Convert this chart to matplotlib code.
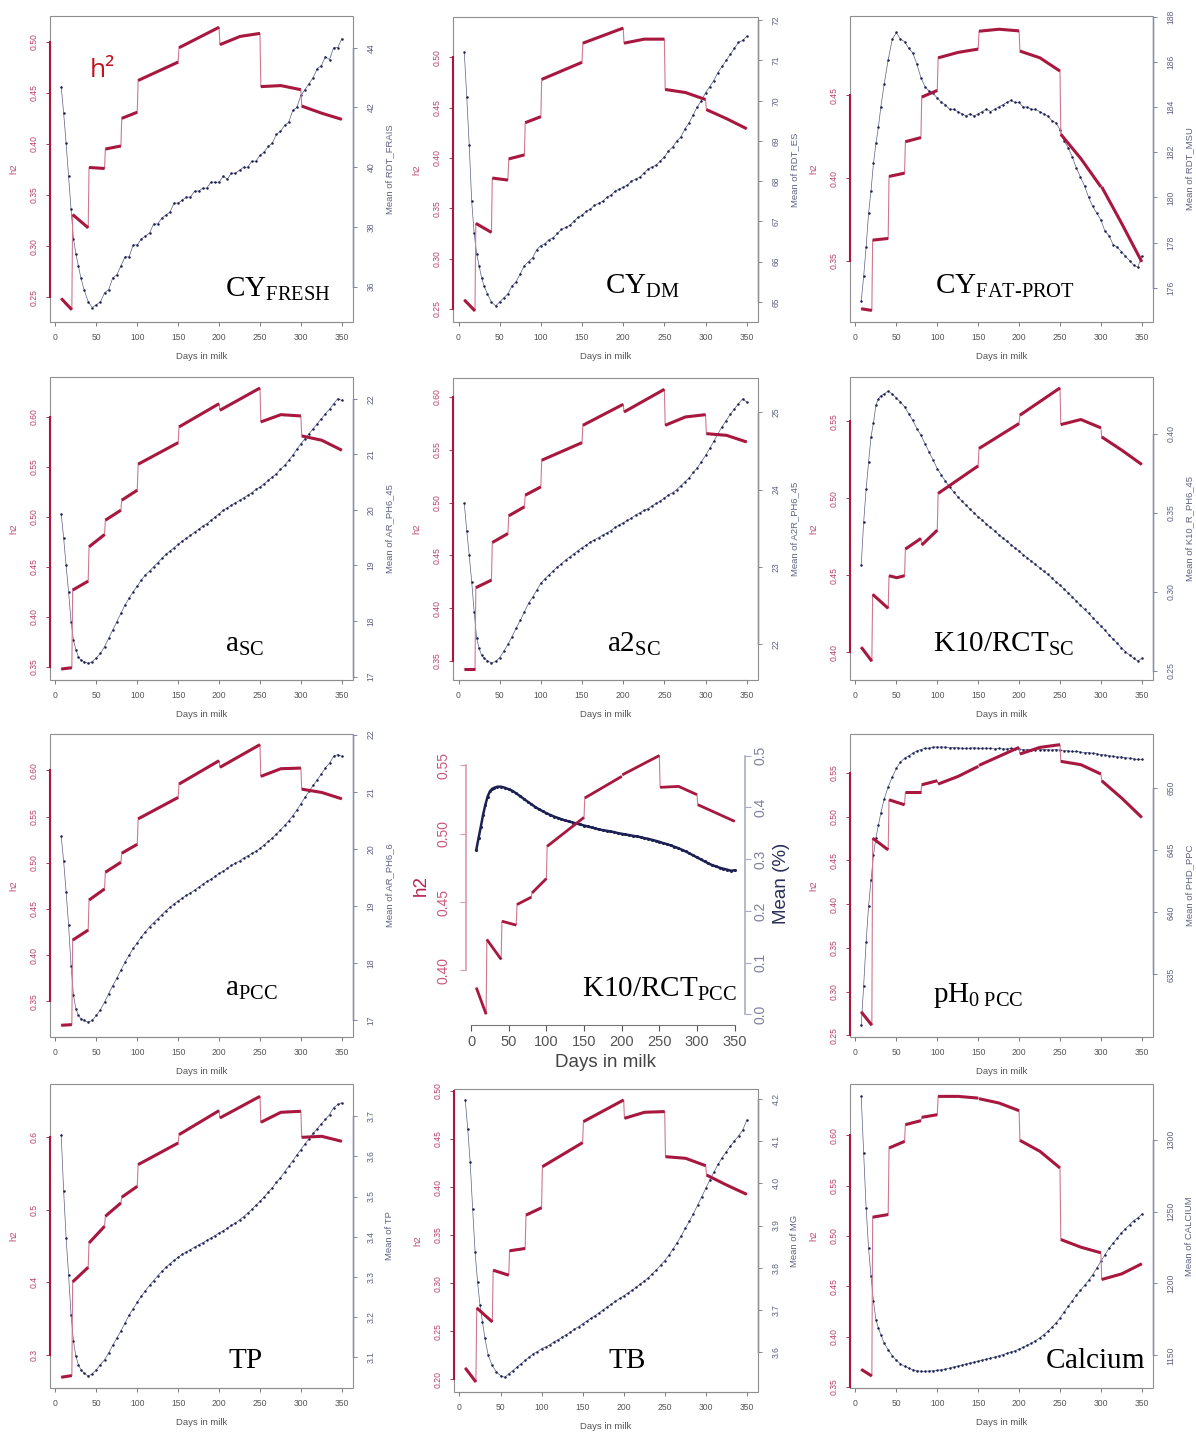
import matplotlib
matplotlib.use("Agg")
import matplotlib.pyplot as plt
from matplotlib.patches import Rectangle

plt.rcParams['font.family'] = ['Liberation Sans', 'DejaVu Sans']
plt.rcParams['mathtext.fontset'] = 'custom'
plt.rcParams['mathtext.rm'] = 'Liberation Serif'
plt.rcParams['mathtext.it'] = 'Liberation Serif:italic'
plt.rcParams['mathtext.bf'] = 'Liberation Serif:bold'

# ---------------- data ----------------
# days where the mean curve was read, and the h2 segment boundaries
DAYS = [7, 10, 13, 16, 19, 22, 25, 28, 31, 35] + list(range(40, 351, 5))
SEG_DAYS = [7, 20, 40, 60, 80, 100, 150, 200, 250, 300, 350]

# h2 per segment: (start, end) or (start, middle, end)
cy_fresh_h2 = [(0.249, 0.238), (0.331, 0.318), (0.377, 0.376), (0.395, 0.398), (0.425, 0.431),
               (0.462, 0.480), (0.494, 0.514), (0.497, 0.505, 0.508), (0.456, 0.457, 0.453),
               (0.437, 0.430, 0.424)]
cy_dm_h2 = [(0.259, 0.248), (0.335, 0.326), (0.380, 0.378), (0.399, 0.403), (0.435, 0.441),
            (0.478, 0.495), (0.514, 0.529), (0.514, 0.518, 0.518), (0.468, 0.465, 0.458),
            (0.448, 0.439, 0.429)]
cy_fp_h2 = [(0.321, 0.320), (0.3625, 0.3635), (0.401, 0.403), (0.422, 0.4245), (0.449, 0.453),
            (0.4727, 0.476, 0.478), (0.4888, 0.490, 0.489), (0.4768, 0.4727, 0.4647),
            (0.4265, 0.4118, 0.3947), (0.3947, 0.3725, 0.3494)]
a_sc_h2 = [(0.3477, 0.349), (0.4267, 0.4357), (0.470, 0.4823), (0.4967, 0.5067), (0.5167, 0.5267),
           (0.5527, 0.5743), (0.590, 0.6133), (0.6067, 0.629), (0.595, 0.6023, 0.601),
           (0.581, 0.5767, 0.5667)]
a2_sc_h2 = [(0.3424, 0.3424), (0.4194, 0.4266), (0.4622, 0.4707), (0.4875, 0.496), (0.507, 0.5149),
            (0.5401, 0.5568), (0.5732, 0.5931), (0.5858, 0.6073), (0.5732, 0.5811, 0.5833),
            (0.5653, 0.5637, 0.5574)]
k10_sc_h2 = [(0.4033, 0.3942), (0.4376, 0.4285), (0.4497, 0.4484, 0.4497), (0.467, 0.4739),
             (0.4696, 0.4793), (0.5031, 0.521), (0.5323, 0.5485), (0.5539, 0.5716),
             (0.5478, 0.5511, 0.5457), (0.5398, 0.5312, 0.5219)]
a_pcc_h2 = [(0.324, 0.3247), (0.4162, 0.4271), (0.4596, 0.4716), (0.4897, 0.5005), (0.5103, 0.520),
            (0.5475, 0.5707), (0.5852, 0.6105), (0.6033, 0.6279), (0.5935, 0.6018, 0.6025),
            (0.5797, 0.5761, 0.5692)]
k10_pcc_h2 = [(0.3873, 0.3679), (0.4226, 0.408), (0.436, 0.4331), (0.4482, 0.4536), (0.4567, 0.4672),
              (0.4908, 0.512), (0.5262, 0.542), (0.5432, 0.5573), (0.534, 0.5347, 0.5286),
              (0.5213, 0.5152, 0.5091)]
ph0_h2 = [(0.2768, 0.2615), (0.4755, 0.4621), (0.5194, 0.5137), (0.5278, 0.5278), (0.5366, 0.5412),
          (0.5374, 0.5462, 0.5576), (0.5588, 0.5691, 0.5794), (0.5718, 0.5794, 0.5825),
          (0.5634, 0.5596, 0.5489), (0.5412, 0.5213, 0.4992)]
tp_h2 = [(0.2688, 0.2711), (0.4002, 0.4204), (0.4539, 0.4769), (0.4907, 0.5091), (0.5169, 0.532),
         (0.5619, 0.5917), (0.6032, 0.6363), (0.6262, 0.656), (0.6202, 0.634, 0.6354),
         (0.5995, 0.6009, 0.594)]
tb_h2 = [(0.2118, 0.1972), (0.2743, 0.2597), (0.3135, 0.3083), (0.3337, 0.3361), (0.3708, 0.3785),
         (0.4212, 0.4462), (0.4681, 0.4906), (0.4715, 0.4778, 0.4785), (0.4316, 0.4299, 0.4222),
         (0.4125, 0.4021, 0.3924)]
calcium_h2 = [(0.3675, 0.3609), (0.5187, 0.5213), (0.5874, 0.594), (0.6106, 0.6146), (0.6179, 0.6205),
              (0.6387, 0.6387, 0.637), (0.6364, 0.6321, 0.6245), (0.595, 0.5841, 0.5676),
              (0.4965, 0.4889, 0.4833), (0.4568, 0.4624, 0.4724)]

# mean of the trait at each day of DAYS
cy_fresh_mean = [42.7, 41.8, 40.8, 39.7, 38.6, 37.6, 37.1, 36.7, 36.3, 35.9,
                 35.5, 35.3, 35.4, 35.5, 35.8, 35.9, 36.3, 36.4, 36.7, 37.0, 37.0, 37.4, 37.4,
                 37.6, 37.7, 37.8, 38.1, 38.1, 38.3, 38.4, 38.5, 38.8, 38.8,
                 38.9, 39.0, 39.0, 39.2, 39.2, 39.3, 39.3, 39.5, 39.5, 39.5,
                 39.7, 39.6, 39.8, 39.8, 39.9, 40.0, 40.0, 40.2, 40.2, 40.4,
                 40.5, 40.7, 40.8, 41.1, 41.2, 41.4, 41.5, 41.9, 42.0, 42.4,
                 42.6, 42.8, 43.0, 43.3, 43.4, 43.7, 43.6, 44.0, 44.0, 44.3]
cy_dm_mean = [71.2, 70.1, 68.9, 67.5, 66.7, 66.2, 65.9, 65.6, 65.4, 65.2,
              65.0, 64.9, 65.0, 65.1, 65.2, 65.4, 65.5, 65.7, 65.9, 66.0, 66.1, 66.3, 66.4,
              66.45, 66.55, 66.6, 66.7, 66.8, 66.85, 66.9, 67.0, 67.1, 67.15,
              67.25, 67.3, 67.4, 67.45, 67.5, 67.6, 67.65, 67.75, 67.8, 67.85,
              67.9, 68.0, 68.05, 68.1, 68.2, 68.3, 68.35, 68.4, 68.5, 68.6,
              68.75, 68.85, 69.0, 69.1, 69.3, 69.45, 69.65, 69.85, 70.0, 70.2,
              70.35, 70.5, 70.7, 70.85, 71.0, 71.15, 71.3, 71.45, 71.5, 71.6]
cy_fp_mean = [175.4, 176.5, 177.8, 179.3, 180.3, 181.5, 182.4, 183.1, 184.0, 185.0,
              186.1, 187.0, 187.3, 187.0, 186.9, 186.6, 186.4, 185.9, 185.3, 184.9, 184.7, 184.6, 184.4,
              184.2, 184.1, 183.9, 183.9, 183.8, 183.7, 183.6, 183.7, 183.6, 183.7,
              183.8, 183.9, 183.8, 183.9, 184.0, 184.1, 184.2, 184.3, 184.2, 184.2,
              184.0, 184.0, 183.9, 183.9, 183.8, 183.7, 183.6, 183.4, 183.3, 183.0,
              182.5, 182.2, 181.8, 181.3, 180.9, 180.5, 180.0, 179.6, 179.3, 179.0,
              178.5, 178.3, 177.9, 177.8, 177.6, 177.4, 177.2, 177.0, 176.9, 177.4]
a_sc_mean = [19.93, 19.49, 19.0, 18.53, 17.99, 17.66, 17.48, 17.36, 17.3, 17.27,
             17.24, 17.27, 17.34, 17.42, 17.54, 17.69, 17.84, 17.99, 18.14, 18.29, 18.41, 18.53, 18.63,
             18.74, 18.83, 18.9, 18.98, 19.05, 19.13, 19.2, 19.26, 19.32, 19.38,
             19.44, 19.49, 19.54, 19.6, 19.65, 19.71, 19.75, 19.81, 19.87, 19.93,
             19.99, 20.04, 20.08, 20.13, 20.17, 20.22, 20.26, 20.31, 20.37, 20.41,
             20.47, 20.53, 20.59, 20.65, 20.73, 20.8, 20.89, 20.98, 21.09, 21.19,
             21.28, 21.37, 21.46, 21.55, 21.64, 21.73, 21.81, 21.91, 22.0, 21.97]
a2_sc_mean = [23.82, 23.47, 23.15, 22.81, 22.42, 22.08, 21.95, 21.86, 21.82, 21.79,
              21.76, 21.78, 21.83, 21.91, 22.0, 22.1, 22.21, 22.31, 22.42, 22.53, 22.61, 22.7, 22.79,
              22.85, 22.9, 22.95, 23.0, 23.04, 23.09, 23.13, 23.17, 23.21, 23.25,
              23.28, 23.32, 23.35, 23.38, 23.41, 23.44, 23.47, 23.51, 23.54, 23.57,
              23.6, 23.63, 23.67, 23.7, 23.73, 23.75, 23.79, 23.82, 23.85, 23.89,
              23.93, 23.96, 24.0, 24.05, 24.1, 24.15, 24.22, 24.28, 24.36, 24.44,
              24.53, 24.62, 24.72, 24.81, 24.89, 24.97, 25.04, 25.11, 25.17, 25.13]
k10_sc_mean = [0.317, 0.344, 0.365, 0.382, 0.398, 0.407, 0.418, 0.422, 0.424, 0.425,
               0.427, 0.425, 0.4225, 0.420, 0.417, 0.4126, 0.4084, 0.4032, 0.399, 0.3937, 0.3884, 0.3832, 0.3779,
               0.3737, 0.3699, 0.3663, 0.3632, 0.360, 0.3573, 0.3548, 0.3522, 0.3499, 0.3474,
               0.3453, 0.3428, 0.3407, 0.3386, 0.3362, 0.3341, 0.332, 0.3299, 0.3278, 0.3257,
               0.3236, 0.3215, 0.3194, 0.3173, 0.3152, 0.3131, 0.311, 0.3089, 0.3064, 0.3043,
               0.3017, 0.2994, 0.2969, 0.2942, 0.2916, 0.2889, 0.2864, 0.2837, 0.2811, 0.2784,
               0.2757, 0.2727, 0.2702, 0.2675, 0.2647, 0.2622, 0.2601, 0.258, 0.2563, 0.258]
a_pcc_mean = [20.22, 19.78, 19.25, 18.67, 17.96, 17.44, 17.2, 17.09, 17.03, 17.0,
              16.97, 17.0, 17.09, 17.19, 17.32, 17.47, 17.61, 17.74, 17.88, 18.02, 18.14, 18.26, 18.36,
              18.46, 18.55, 18.64, 18.71, 18.78, 18.85, 18.92, 18.98, 19.04, 19.09,
              19.14, 19.19, 19.23, 19.28, 19.33, 19.38, 19.43, 19.47, 19.52, 19.57,
              19.61, 19.66, 19.71, 19.75, 19.79, 19.84, 19.88, 19.92, 19.96, 20.01,
              20.07, 20.13, 20.19, 20.26, 20.33, 20.41, 20.49, 20.58, 20.68, 20.79,
              20.9, 21.01, 21.11, 21.21, 21.31, 21.42, 21.5, 21.62, 21.65, 21.62]
k10_pcc_mean = [0.318, 0.341, 0.363, 0.386, 0.405, 0.421, 0.431, 0.436, 0.438, 0.440,
                0.440, 0.438, 0.435, 0.432, 0.427, 0.422, 0.4165, 0.4113, 0.4062, 0.401, 0.3965, 0.3927, 0.3888,
                0.3856, 0.3824, 0.3798, 0.3772, 0.3747, 0.3728, 0.3708, 0.3689, 0.367, 0.365,
                0.3631, 0.3612, 0.3593, 0.3573, 0.356, 0.3548, 0.3535, 0.3522, 0.3503, 0.349,
                0.3477, 0.3464, 0.3451, 0.3438, 0.3425, 0.3406, 0.3393, 0.3374, 0.3355, 0.3335,
                0.331, 0.329, 0.3265, 0.3239, 0.3213, 0.3181, 0.3149, 0.311, 0.3072, 0.3033,
                0.2995, 0.2956, 0.2918, 0.2886, 0.286, 0.2834, 0.2815, 0.2796, 0.2776, 0.2783]
ph0_mean = [630.9, 634.1, 637.6, 640.5, 642.6, 644.6, 646.0, 647.0, 648.0, 649.1,
            650.1, 650.9, 651.6, 652.1, 652.4, 652.6, 652.8, 653.0, 653.1, 653.2, 653.2, 653.3, 653.3,
            653.3, 653.3, 653.25, 653.25, 653.25, 653.2, 653.2, 653.2, 653.25, 653.2,
            653.2, 653.2, 653.2, 653.15, 653.2, 653.15, 653.15, 653.2, 653.15, 653.15,
            653.1, 653.1, 653.1, 653.1, 653.1, 653.1, 653.1, 653.05, 653.1, 653.05,
            653.0, 653.0, 652.95, 652.95, 652.9, 652.85, 652.85, 652.8, 652.75, 652.7,
            652.65, 652.6, 652.55, 652.5, 652.5, 652.45, 652.4, 652.35, 652.3, 652.3]
tp_mean = [3.654, 3.513, 3.397, 3.306, 3.206, 3.14, 3.102, 3.082, 3.069, 3.061,
           3.053, 3.059, 3.069, 3.082, 3.094, 3.111, 3.13, 3.148, 3.166, 3.185, 3.205, 3.221, 3.237,
           3.252, 3.266, 3.279, 3.291, 3.303, 3.314, 3.324, 3.333, 3.341, 3.349,
           3.356, 3.362, 3.368, 3.374, 3.38, 3.385, 3.391, 3.397, 3.403, 3.409,
           3.415, 3.421, 3.428, 3.434, 3.442, 3.45, 3.459, 3.468, 3.478, 3.488,
           3.499, 3.511, 3.522, 3.535, 3.547, 3.561, 3.575, 3.589, 3.603, 3.617,
           3.631, 3.644, 3.657, 3.669, 3.681, 3.692, 3.704, 3.721, 3.729, 3.733]
tb_mean = [4.198, 4.13, 4.051, 3.94, 3.837, 3.766, 3.711, 3.671, 3.632, 3.592,
           3.568, 3.552, 3.544, 3.54, 3.548, 3.556, 3.564, 3.572, 3.58, 3.588, 3.596, 3.601, 3.608,
           3.612, 3.617, 3.624, 3.629, 3.635, 3.641, 3.647, 3.654, 3.66, 3.667,
           3.673, 3.68, 3.686, 3.693, 3.7, 3.707, 3.713, 3.72, 3.727, 3.733,
           3.74, 3.746, 3.753, 3.761, 3.768, 3.776, 3.786, 3.795, 3.806, 3.817,
           3.829, 3.844, 3.859, 3.875, 3.893, 3.91, 3.928, 3.948, 3.968, 3.988,
           4.008, 4.027, 4.045, 4.061, 4.075, 4.088, 4.101, 4.113, 4.126, 4.15]
calcium_mean = [1330.1, 1290.7, 1252.5, 1224.6, 1204.9, 1187.5, 1174.8, 1169.0, 1164.4, 1158.6,
                1153.9, 1149.8, 1146.5, 1144.2, 1142.3, 1141.2, 1140.0, 1139.3, 1138.9, 1138.9, 1139.1, 1139.3, 1139.6,
                1140.0, 1140.5, 1141.2, 1141.9, 1142.6, 1143.3, 1144.0, 1144.7, 1145.3, 1146.0,
                1146.7, 1147.4, 1148.1, 1148.8, 1149.7, 1150.5, 1151.4, 1152.3, 1153.2, 1154.4,
                1155.6, 1157.0, 1158.4, 1160.2, 1162.1, 1164.4, 1166.7, 1169.5, 1172.5, 1176.0,
                1180.1, 1184.1, 1188.0, 1191.7, 1195.2, 1198.7, 1202.2, 1206.1, 1210.7, 1215.4,
                1220.0, 1224.6, 1228.1, 1231.6, 1235.1, 1238.1, 1240.9, 1243.7, 1245.5, 1248.3]

titles = [r'$\mathrm{CY}_{\mathrm{FRESH}}$', r'$\mathrm{CY}_{\mathrm{DM}}$', r'$\mathrm{CY}_{\text{FAT-PROT}}$',
          r'$\mathrm{a}_{\mathrm{SC}}$', r'$\mathrm{a2}_{\mathrm{SC}}$', r'$\mathrm{K10/RCT}_{\mathrm{SC}}$',
          r'$\mathrm{a}_{\mathrm{PCC}}$', r'$\mathrm{K10/RCT}_{\mathrm{PCC}}$', r'$\mathrm{pH}_{\mathrm{0\ PCC}}$',
          r'$\mathrm{TP}$', r'$\mathrm{TB}$', r'$\mathrm{Calcium}$']
mean_labels = ['Mean of RDT_FRAIS', 'Mean of RDT_ES', 'Mean of RDT_MSU',
               'Mean of AR_PH6_45', 'Mean of A2R_PH6_45', 'Mean of K10_R_PH6_45',
               'Mean of AR_PH6_6', 'Mean (%)', 'Mean of PHD_PPC',
               'Mean of TP', 'Mean of MG', 'Mean of CALCIUM']
h2_ticks = [[0.25, 0.30, 0.35, 0.40, 0.45, 0.50], [0.25, 0.30, 0.35, 0.40, 0.45, 0.50], [0.35, 0.40, 0.45],
            [0.35, 0.40, 0.45, 0.50, 0.55, 0.60], [0.35, 0.40, 0.45, 0.50, 0.55, 0.60], [0.40, 0.45, 0.50, 0.55],
            [0.35, 0.40, 0.45, 0.50, 0.55, 0.60], [0.40, 0.45, 0.50, 0.55], [0.25, 0.30, 0.35, 0.40, 0.45, 0.50, 0.55],
            [0.3, 0.4, 0.5, 0.6], [0.20, 0.25, 0.30, 0.35, 0.40, 0.45, 0.50], [0.35, 0.40, 0.45, 0.50, 0.55, 0.60]]
mean_ticks = [[36, 38, 40, 42, 44], [65, 66, 67, 68, 69, 70, 71, 72], [176, 178, 180, 182, 184, 186, 188],
              [17, 18, 19, 20, 21, 22], [22, 23, 24, 25], [0.25, 0.30, 0.35, 0.40],
              [17, 18, 19, 20, 21, 22], [0.0, 0.1, 0.2, 0.3, 0.4, 0.5], [635, 640, 645, 650],
              [3.1, 3.2, 3.3, 3.4, 3.5, 3.6, 3.7], [3.6, 3.7, 3.8, 3.9, 4.0, 4.1, 4.2], [1150, 1200, 1250, 1300]]

h2_all = [cy_fresh_h2, cy_dm_h2, cy_fp_h2, a_sc_h2, a2_sc_h2, k10_sc_h2,
          a_pcc_h2, k10_pcc_h2, ph0_h2, tp_h2, tb_h2, calcium_h2]
mean_all = [cy_fresh_mean, cy_dm_mean, cy_fp_mean, a_sc_mean, a2_sc_mean, k10_sc_mean,
            a_pcc_mean, k10_pcc_mean, ph0_mean, tp_mean, tb_mean, calcium_mean]

# ---------------- layout / style ----------------
W, H = 1196, 1432
# plot boxes in pixels: left, top, right, bottom
boxes = [(50, 16, 353, 322), (453, 17, 758, 322), (850, 16, 1153, 322),
         (50, 377, 353, 680), (453, 378, 758, 680), (850, 377, 1153, 680),
         (50, 734, 353, 1037), (466, 745, 745, 1025), (850, 734, 1153, 1037),
         (50, 1084, 353, 1388), (454, 1089, 758, 1392), (850, 1084, 1153, 1388)]
h2_lims = [(0.226, 0.525), (0.237, 0.540), (0.313, 0.498), (0.3367, 0.640), (0.332, 0.618), (0.382, 0.5787),
           (0.3113, 0.6394), (0.360, 0.565), (0.248, 0.5947), (0.254, 0.673), (0.1868, 0.502), (0.349, 0.651)]
mean_lims = [(34.82, 45.06), (64.5, 72.08), (174.48, 188.03), (16.94, 22.39), (21.54, 25.44), (0.2443, 0.4358),
             (16.71, 22.01), (-0.0206, 0.5206), (629.97, 654.35), (3.0236, 3.78), (3.505, 4.224), (1127.3, 1338.7)]
h2_fmt = ['%.2f'] * 9 + ['%.1f', '%.2f', '%.2f']
mean_fmt = ['%d', '%d', '%d', '%d', '%d', '%.2f', '%d', '%.1f', '%d', '%.1f', '%.1f', '%d']
title_pos = [(0.578, 0.082), (0.498, 0.092), (0.28, 0.092), (0.578, 0.092), (0.505, 0.092), (0.274, 0.092),
             (0.578, 0.135), (0.416, 0.10), (0.274, 0.116), (0.587, 0.066), (0.507, 0.079), (0.644, 0.066)]

RED = '#A8173F'
RED_THIN = '#CF7890'
RED_TXT = '#B8426A'
NAVY = '#1C2052'
NAVY_THIN = '#5A5E86'
GREY_AX = '#6E7290'
BOX = '#8E8E8E'


def draw_h2(ax, segs, lw_thick):
    xs_all, ys_all = [], []
    for i, vals in enumerate(segs):
        a = SEG_DAYS[i] + (1 if i > 0 else 0)
        b = SEG_DAYS[i + 1]
        xs = [a, b] if len(vals) == 2 else [a, (a + b) / 2, b]
        ax.plot(xs, vals, color=RED, lw=lw_thick, solid_capstyle='butt',
                solid_joinstyle='round', zorder=4)
        xs_all += xs
        ys_all += list(vals)
    ax.plot(xs_all, ys_all, color=RED_THIN, lw=0.8, zorder=3)


fig = plt.figure(figsize=(W / 100, H / 100), dpi=100)

for k in range(12):
    l, t, r, b = boxes[k]
    ax = fig.add_axes([l / W, 1 - b / H, (r - l) / W, (b - t) / H])
    ax2 = ax.twinx()
    ax.set_zorder(3)
    ax2.set_zorder(2)
    ax.patch.set_visible(False)
    big = (k == 7)

    ax.set_xlim(-6.7, 363.7)
    ax.set_ylim(*h2_lims[k])
    ax2.set_ylim(*mean_lims[k])

    # mean curve (dots + thin line)
    if big:
        ax2.plot(DAYS, mean_all[k], color=NAVY, lw=1.8, zorder=2)
        ax2.plot(DAYS, mean_all[k], 'o', ms=2.2, color=NAVY, mec='none', zorder=3)
    else:
        ax2.plot(DAYS, mean_all[k], color=NAVY_THIN, lw=0.5, zorder=2)
        ax2.plot(DAYS, mean_all[k], 'o', ms=1.8, color=NAVY, mec='none', zorder=3)

    draw_h2(ax, h2_all[k], 2.0 if big else 2.2)

    # ticks
    ax.set_xticks(range(0, 351, 50))
    ax.set_yticks(h2_ticks[k])
    ax.set_yticklabels([h2_fmt[k] % v for v in h2_ticks[k]], rotation=90, va='center')
    ax2.set_yticks(mean_ticks[k])
    ax2.set_yticklabels([mean_fmt[k] % v for v in mean_ticks[k]], rotation=90, va='center')

    for s in ['top', 'right']:
        ax.spines[s].set_visible(False)
    for s in ['top', 'left', 'bottom']:
        ax2.spines[s].set_visible(False)
    ax.spines['left'].set_bounds(h2_ticks[k][0], h2_ticks[k][-1])
    ax2.spines['right'].set_bounds(mean_ticks[k][0], mean_ticks[k][-1])
    ax.spines['bottom'].set_bounds(0, 350)

    if big:
        ax.spines['left'].set_color('#D99AAE')
        ax.spines['left'].set_linewidth(1.2)
        ax2.spines['right'].set_color('#A9ABC2')
        ax2.spines['right'].set_linewidth(1.2)
        ax.spines['bottom'].set_color('#777777')
        ax.tick_params(axis='x', labelsize=10.5, colors='#555555', length=4, width=0.8, pad=3)
        ax.tick_params(axis='y', labelsize=10, colors='#D99AAE', labelcolor='#C9577A',
                       length=4, width=0.8, pad=7)
        ax2.tick_params(axis='y', labelsize=10, colors='#A9ABC2', labelcolor='#7C7F9C',
                        length=4, width=0.8, pad=2)
        ax.set_xlabel('Days in milk', fontsize=13.5, color='#444444')
        ax.xaxis.set_label_coords(0.5, -0.105)
        ax.set_ylabel('h2', fontsize=13.5, color='#B5214B')
        ax.yaxis.set_label_coords(-0.13, 0.5)
        ax2.set_ylabel('Mean (%)', fontsize=13.5, color='#2A2E5A')
        ax2.yaxis.set_label_coords(1.10, 0.505)
    else:
        ax.spines['left'].set_color(RED)
        ax.spines['left'].set_linewidth(1.5)
        ax.spines['bottom'].set_color(BOX)
        ax.spines['bottom'].set_linewidth(0.8)
        ax2.spines['right'].set_color(GREY_AX)
        ax2.spines['right'].set_linewidth(1.0)
        ax.add_patch(Rectangle((0, 0), 1, 1, transform=ax.transAxes, fill=False,
                               ec=BOX, lw=0.8, clip_on=False, zorder=1))
        ax.tick_params(axis='x', labelsize=6.2, colors='#666666', labelcolor='#555555',
                       length=3, width=0.6, pad=5)
        ax.tick_params(axis='y', labelsize=6.2, colors=RED, labelcolor=RED_TXT,
                       length=3, width=0.6, pad=5)
        ax2.tick_params(axis='y', labelsize=6.2, colors=GREY_AX, labelcolor='#5F6384',
                        length=3, width=0.6, pad=7)
        ax.set_xlabel('Days in milk', fontsize=6.8, color='#555555')
        ax.xaxis.set_label_coords(0.5, -0.098)
        ax.set_ylabel('h2', fontsize=6.8, color='#C04A70')
        ax.yaxis.set_label_coords(-0.105, 0.5)
        ax2.set_ylabel(mean_labels[k], fontsize=6.8, color='#5F6384')
        ax2.yaxis.set_label_coords(1.105, 0.5)

    tx, ty = title_pos[k]
    ax.text(tx, ty, titles[k], transform=ax.transAxes, fontsize=21,
            ha='left', va='baseline', color='black', zorder=10)

    if k == 0:
        ax.text(0.132, 0.80, 'h²', transform=ax.transAxes, fontsize=19,
                color='#C0141E', family=['Open Sans', 'DejaVu Sans'], zorder=10)

fig.savefig('out.png', dpi=100)
